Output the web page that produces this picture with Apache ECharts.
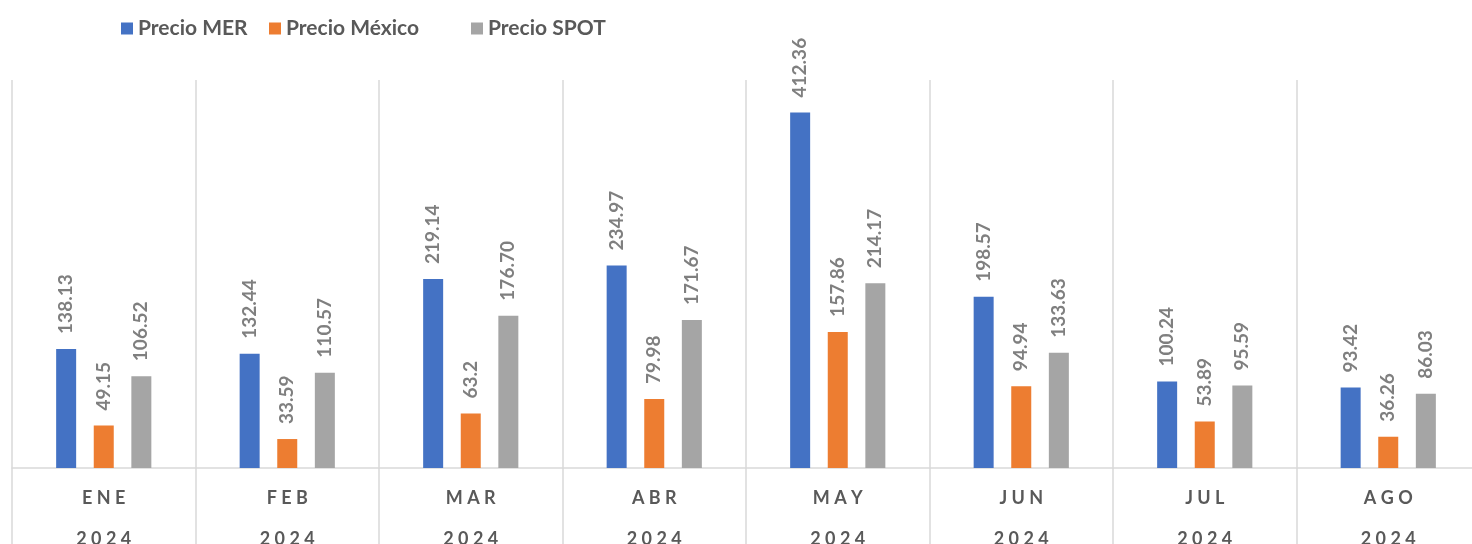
<!DOCTYPE html>
<html>
<head>
<meta charset="utf-8">
<script src="https://cdn.jsdelivr.net/npm/echarts@6/dist/echarts.min.js"></script>
<style>
  html, body { margin: 0; padding: 0; background: #fff; }
  #main { width: 1472px; height: 544px; }
</style>
</head>
<body>
<div id="main"></div>
<script>
  // datos
  const months = ['ENE', 'FEB', 'MAR', 'ABR', 'MAY', 'JUN', 'JUL', 'AGO']
  const year = '2024'
  const seriesNames = ['Precio MER', 'Precio México', 'Precio SPOT']
  const precioMER = ['138.13', '132.44', '219.14', '234.97', '412.36', '198.57', '100.24', '93.42']
  const precioMexico = ['49.15', '33.59', '63.2', '79.98', '157.86', '94.94', '53.89', '36.26']
  const precioSPOT = ['106.52', '110.57', '176.70', '171.67', '214.17', '133.63', '95.59', '86.03']

  const spaced = s => s.split('').join(' ')

  let myChart = echarts.init(document.getElementById('main'))

  let makeSeries = (name, values, color) => ({
    name: name,
    type: 'bar',
    barWidth: 20,
    barGap: '88%',
    itemStyle: { color: color },
    data: values.map(v => Number(v)),
    label: {
      show: true,
      position: 'top',
      rotate: 90,
      align: 'left',
      verticalAlign: 'middle',
      distance: 15,
      color: '#7f7f7f',
      fontFamily: 'Lato, sans-serif',
      fontWeight: 'bold',
      fontSize: 19,
      formatter: p => values[p.dataIndex]
    },
    animation: false
  })

  // una leyenda por serie, para repartirlas como en el original
  let legendLeft = [116, 264, 466]
  let legends = seriesNames.map((name, i) => ({
    left: legendLeft[i],
    top: 13,
    itemWidth: 12,
    itemHeight: 12,
    icon: 'rect',
    textStyle: {
      color: '#595959',
      fontFamily: 'Lato, sans-serif',
      fontWeight: 'bold',
      fontSize: 21
    },
    data: [name]
  }))

  let option = {
    animation: false,
    legend: legends,
    grid: {
      left: 12,
      top: 80,
      width: 1468,
      height: 388,
      outerBoundsMode: 'none'
    },
    xAxis: {
      type: 'category',
      data: months,
      axisLine: { lineStyle: { color: '#d9d9d9', width: 1.5 } },
      axisTick: {
        show: true,
        interval: 0,
        length: 80,
        lineStyle: { color: '#d9d9d9', width: 1.5 }
      },
      splitLine: {
        show: true,
        interval: 0,
        lineStyle: { color: '#d9d9d9', width: 1.5 }
      },
      axisLabel: {
        interval: 0,
        margin: 10,
        formatter: v => '{m|' + spaced(v) + '}\n{y|' + spaced(year) + '}',
        rich: {
          m: {
            color: '#595959',
            fontFamily: 'Lato, sans-serif',
            fontWeight: 'bold',
            fontSize: 18,
            lineHeight: 41
          },
          y: {
            color: '#595959',
            fontFamily: 'Lato, sans-serif',
            fontWeight: 'bold',
            fontSize: 18,
            lineHeight: 41
          }
        }
      }
    },
    yAxis: {
      type: 'value',
      min: 0,
      max: 450,
      show: false,
      splitLine: { show: false }
    },
    series: [
      makeSeries(seriesNames[0], precioMER, '#4472c4'),
      makeSeries(seriesNames[1], precioMexico, '#ed7d31'),
      makeSeries(seriesNames[2], precioSPOT, '#a5a5a5')
    ]
  }

  myChart.setOption(option)
</script>
</body>
</html>
